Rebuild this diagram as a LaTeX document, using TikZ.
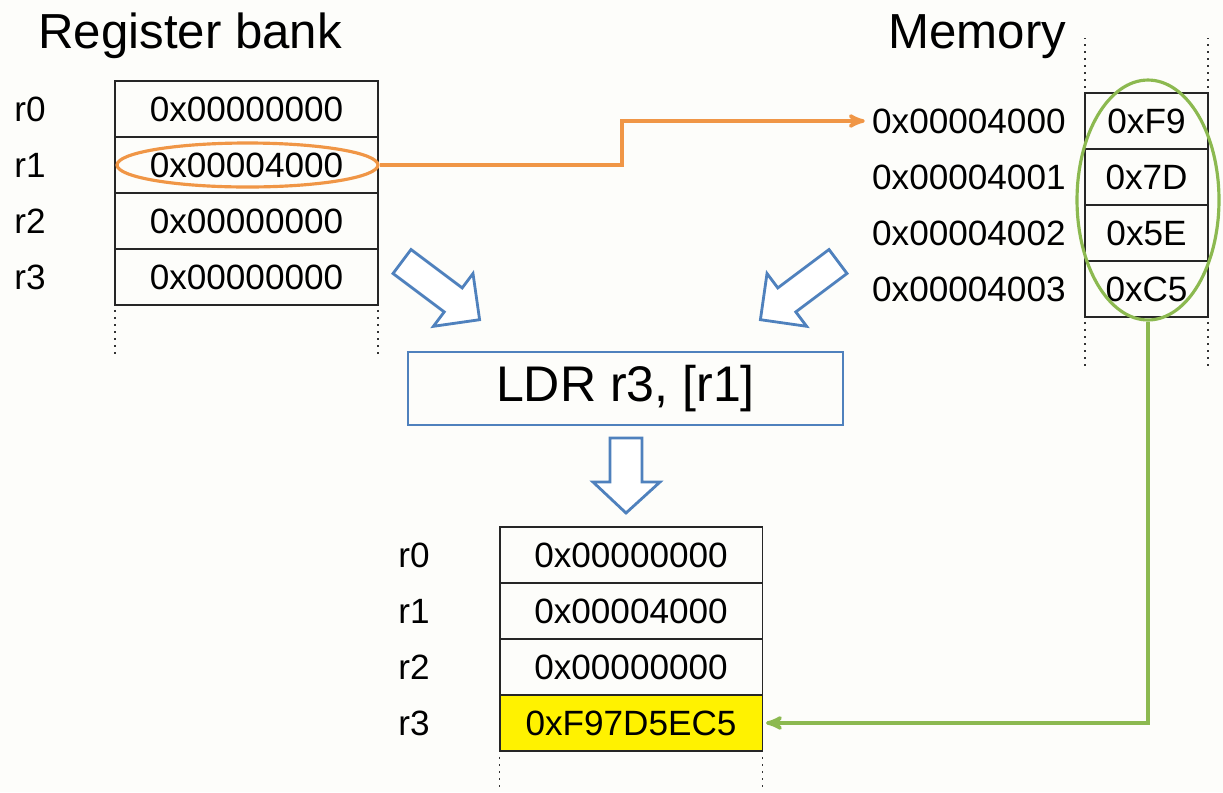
\documentclass[tikz,border=0pt]{standalone}
\usepackage{fontspec}
\setmainfont{Liberation Sans}
\usepackage{tikz}
\usetikzlibrary{arrows,positioning,calc,shapes.geometric}

\definecolor{paper}{RGB}{253,253,250}
\definecolor{ldrblue}{RGB}{79,129,189}
\definecolor{addrorange}{RGB}{240,150,70}
\definecolor{bytegreen}{RGB}{140,185,80}

\begin{document}
\begin{tikzpicture}[
        x=0.02cm, y=-0.02cm,
        every node/.style={color=black, font=\fontsize{20}{24}\selectfont},
        reg/.style={draw=black!85, line width=1.1pt, minimum width=5.26cm,
            minimum height=1.12cm, inner sep=0pt, outer sep=0pt},
        byte/.style={reg, minimum width=2.46cm},
        lbl/.style={inner sep=0pt},
        addr/.style={inner xsep=4pt, inner ysep=0pt, anchor=east},
        title/.style={inner sep=0pt, anchor=base west,
            font=\fontsize{28}{34}\selectfont},
        dots/.style={black!80, line width=1pt, dash pattern=on 1pt off 3pt},
        hollow/.style={ldrblue, line width=1.6pt, fill=white, line join=miter},
        link/.style={line width=2pt, ->, >=stealth'},
        ring/.style={ellipse, draw, line width=1.8pt, inner sep=0pt},
    ]
    % background
    \fill[paper] (0,0) rectangle (1223,792);
    % register bank before
    \node[title] (regtitle) at (38,48) {Register bank};
    \node[reg] (a0) at (246.5,109) {0x00000000};
    \node[reg, below=0pt of a0] (a1) {0x00004000};
    \node[reg, below=0pt of a1] (a2) {0x00000000};
    \node[reg, below=0pt of a2] (a3) {0x00000000};
    \node[lbl, anchor=west] at (14,109) (la0) {r0};
    \node[lbl, anchor=west] at (14,165) (la1) {r1};
    \node[lbl, anchor=west] at (14,221) (la2) {r2};
    \node[lbl, anchor=west] at (14,277) (la3) {r3};
    \draw[dots] (a3.south west) ++(0,5) -- ++(0,46);
    \draw[dots] (a3.south east) ++(0,5) -- ++(0,46);
    % memory
    \node[title] (memtitle) at (888,48) {Memory};
    \node[byte] (m0) at (1146.5,121) {0xF9};
    \node[byte, below=0pt of m0] (m1) {0x7D};
    \node[byte, below=0pt of m1] (m2) {0x5E};
    \node[byte, below=0pt of m2] (m3) {0xC5};
    \node[addr] at (1073,121) (ad0) {0x00004000};
    \node[addr] at (1073,177) (ad1) {0x00004001};
    \node[addr] at (1073,233) (ad2) {0x00004002};
    \node[addr] at (1073,289) (ad3) {0x00004003};
    \draw[dots] (m0.north west) ++(0,-5) -- ++(0,-50);
    \draw[dots] (m0.north east) ++(0,-5) -- ++(0,-50);
    \draw[dots] (m3.south west) ++(0,5) -- ++(0,45);
    \draw[dots] (m3.south east) ++(0,5) -- ++(0,45);
    % instruction
    \node[draw=ldrblue, line width=1.6pt, minimum width=8.7cm,
        minimum height=1.46cm, font=\fontsize{28.5}{34}\selectfont]
        at (625.5,388.5) (ldr) {LDR r3, [r1]};
    \draw[hollow] (411,249.5) -- (462.2,287.9) -- (473,273.5) -- (479.6,319.7)
        -- (433.4,326.3) -- (444.2,311.9) -- (393,273.5) -- cycle;
    \draw[hollow] (829,249.5) -- (777.8,287.9) -- (767,273.5) -- (760.4,319.7)
        -- (806.6,326.3) -- (795.8,311.9) -- (847,273.5) -- cycle;
    \draw[hollow] (610,438) -- (642,438) -- (642,482) -- (660,482)
        -- (626,513) -- (593,482) -- (610,482) -- cycle;
    % register bank after
    \node[reg] (b0) at (631,555) {0x00000000};
    \node[reg, below=0pt of b0] (b1) {0x00004000};
    \node[reg, below=0pt of b1] (b2) {0x00000000};
    \node[reg, fill=yellow, below=0pt of b2] (b3) {0xF97D5EC5};
    \node[lbl, anchor=west] at (398,555) (lb0) {r0};
    \node[lbl, anchor=west] at (398,611) (lb1) {r1};
    \node[lbl, anchor=west] at (398,667) (lb2) {r2};
    \node[lbl, anchor=west] at (398,723) (lb3) {r3};
    \draw[dots] (b3.south west) ++(0,6) -- ++(0,34);
    \draw[dots] (b3.south east) ++(0,6) -- ++(0,34);
    % highlights and links
    \node[ring, draw=addrorange, minimum width=5.22cm, minimum height=0.88cm]
        at (247.5,165) (hl) {};
    \node[ring, draw=bytegreen, minimum width=2.84cm, minimum height=4.8cm]
        at (1148,200) (grp) {};
    \draw[link, addrorange] (hl.east) -| ($(hl.east)!.5!(ad0.west)$) |- (ad0.west);
    \draw[link, bytegreen, shorten >=2pt] (grp.south) |- (b3.east);
\end{tikzpicture}
\end{document}
